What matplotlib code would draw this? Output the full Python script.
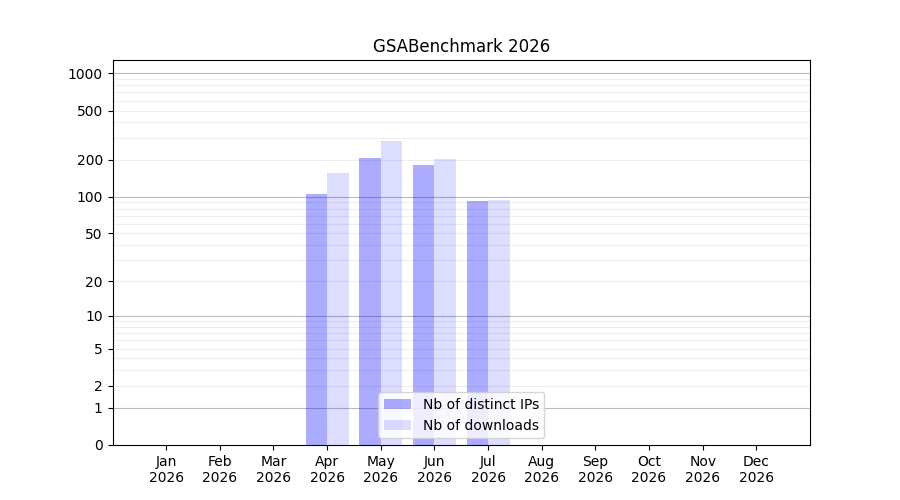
import matplotlib
matplotlib.use("Agg")
import matplotlib.pyplot as plt
import numpy as np

months = ["Jan", "Feb", "Mar", "Apr", "May", "Jun", "Jul", "Aug", "Sep", "Oct", "Nov", "Dec"]
year = "2026"
distinct_ips = [0, 0, 0, 105, 206, 180, 92, 0, 0, 0, 0, 0]
downloads = [0, 0, 0, 155, 282, 201, 94, 0, 0, 0, 0, 0]
major_ticks = [0, 1, 2, 5, 10, 20, 50, 100, 200, 500, 1000]

fig, ax = plt.subplots(figsize=(9, 5), dpi=100)

x = np.arange(len(months))
w = 0.4
ax.bar(x - w / 2, distinct_ips, width=w, color="blue", alpha=0.33, label="Nb of distinct IPs")
ax.bar(x + w / 2, downloads, width=w, color="blue", alpha=0.133, label="Nb of downloads")

ax.set_yscale("function", functions=(lambda v: np.log10(np.maximum(v, -0.999) + 1),
                                     lambda v: 10 ** v - 1))
ax.set_ylim(0, 1280)
ax.set_xlim(-1, 12)

ax.set_yticks(major_ticks)
ax.set_yticklabels([str(t) for t in major_ticks])
minor = [m * d for d in (1, 10, 100) for m in range(2, 10)]
ax.set_yticks(minor, minor=True)
ax.tick_params(axis="y", which="minor", length=0)

for d in (1, 10, 100, 1000):
    ax.axhline(d, color="#bbbbbb", lw=0.8, zorder=0)
for m in minor:
    ax.axhline(m, color="#eeeeee", lw=0.8, zorder=0)

ax.set_xticks(x)
ax.set_xticklabels([f"{m}\n{year}" for m in months])
ax.set_title(f"GSABenchmark {year}")
ax.legend(loc="lower center")

fig.savefig("out.png", dpi=100)
